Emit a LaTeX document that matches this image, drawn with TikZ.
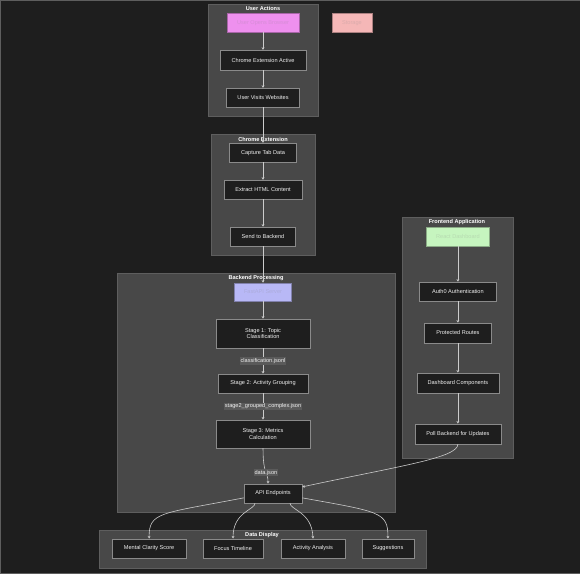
\documentclass[tikz,border=0pt]{standalone}
\usepackage{fontspec}
\setmainfont{Liberation Sans}
\usetikzlibrary{arrows.meta,calc}

\definecolor{bgdark}{HTML}{1E1E1E}
\definecolor{clfill}{HTML}{484848}
\definecolor{clline}{HTML}{5E5E5E}
\definecolor{boxline}{HTML}{8A8A8A}
\definecolor{edgecol}{HTML}{CCCCCC}
\definecolor{txtcol}{HTML}{F0F0F0}
\definecolor{lblfill}{HTML}{5A5A5A}
\definecolor{violetbox}{HTML}{EE90EE}
\definecolor{pinkbox}{HTML}{F5B7B7}
\definecolor{lavbox}{HTML}{B8B8F6}
\definecolor{greenbox}{HTML}{C6F5BF}

\tikzset{
  box/.style={draw=boxline,fill=bgdark,text=txtcol,line width=.6pt,inner sep=1pt,
    font=\fontsize{5.6}{6.8}\selectfont,align=center},
  colbox/.style={box,fill=#1,draw=#1!70!black,text=#1!78!gray},
  cluster/.style={draw=clline,fill=clfill,line width=.6pt},
  cltitle/.style={text=white,font=\fontsize{5.6}{6.8}\selectfont\bfseries,inner sep=0pt},
  edge/.style={draw=edgecol,line width=.6pt,-{Stealth[length=2.6pt,width=2.8pt]}},
  elabel/.style={fill=lblfill,text=txtcol,inner sep=1pt,font=\fontsize{5.6}{6.8}\selectfont}
}

\begin{document}
\begin{tikzpicture}[x=1pt,y=-1pt]
  % background
  \draw[fill=bgdark,draw=clline] (0,0) rectangle (580,573);
  \useasboundingbox (0,0) rectangle (580,573);

  % clusters
  \draw[cluster] (208,4) rectangle (318,116);
  \node[cltitle] at (263,8) {User Actions};
  \draw[cluster] (211,134) rectangle (315,255);
  \node[cltitle] at (263,139) {Chrome Extension};
  \draw[cluster] (117,273) rectangle (395,512);
  \node[cltitle] at (256,278) {Backend Processing};
  \draw[cluster] (402,217) rectangle (513,458);
  \node[cltitle] at (457,222) {Frontend Application};
  \draw[cluster] (99,530) rectangle (426,568);
  \node[cltitle] at (262,535) {Data Display};

  % user actions
  \node[colbox=violetbox,minimum width=72,minimum height=19] (uob) at (263,22.5) {User Opens Browser};
  \node[colbox=pinkbox,minimum width=40,minimum height=19] (store) at (352,22.5) {Storage};
  \node[box,minimum width=86,minimum height=20] (cea) at (263,60) {Chrome Extension Active};
  \node[box,minimum width=73,minimum height=19] (uvw) at (263,97.5) {User Visits Websites};

  % chrome extension
  \node[box,minimum width=67,minimum height=19] (ctd) at (263,152.5) {Capture Tab Data};
  \node[box,minimum width=78,minimum height=19] (ehc) at (263,189.5) {Extract HTML Content};
  \node[box,minimum width=65,minimum height=19] (stb) at (263,236.5) {Send to Backend};

  % backend processing
  \node[colbox=lavbox,minimum width=57,minimum height=18] (fapi) at (263,292) {FastAPI Server};
  \node[box,minimum width=94,minimum height=29] (sone) at (263,333.5) {Stage 1: Topic\\Classification};
  \node[box,minimum width=90,minimum height=19] (stwo) at (263,383.5) {Stage 2: Activity Grouping};
  \node[box,minimum width=94,minimum height=28] (sthree) at (263,434) {Stage 3: Metrics\\Calculation};
  \node[box,minimum width=58,minimum height=19] (api) at (273,493.5) {API Endpoints};

  % frontend application
  \node[colbox=greenbox,minimum width=63,minimum height=19] (rd) at (458,236.5) {React Dashboard};
  \node[box,minimum width=77,minimum height=19] (auth) at (458,291.5) {Auth0 Authentication};
  \node[box,minimum width=67,minimum height=20] (pr) at (458,333) {Protected Routes};
  \node[box,minimum width=82,minimum height=20] (dc) at (458,383) {Dashboard Components};
  \node[box,minimum width=86,minimum height=20] (poll) at (458,434) {Poll Backend for Updates};

  % data display
  \node[box,minimum width=74,minimum height=19] (mcs) at (149,548.5) {Mental Clarity Score};
  \node[box,minimum width=60,minimum height=19] (ft) at (233,548.5) {Focus Timeline};
  \node[box,minimum width=64,minimum height=19] (aa) at (313,548.5) {Activity Analysis};
  \node[box,minimum width=52,minimum height=19] (sug) at (388,548.5) {Suggestions};

  % edges
  \draw[edge] (uob) -- (cea);
  \draw[edge] (cea) -- (uvw);
  \draw[edge] (uvw) -- (ctd);
  \draw[edge] (ctd) -- (ehc);
  \draw[edge] (ehc) -- (stb);
  \draw[edge] (stb) -- (fapi);
  \draw[edge] (fapi) -- (sone);
  \draw[edge] (sone) -- node[elabel]{classification.jsonl} (stwo);
  \draw[edge] (stwo) -- node[elabel]{stage2\_grouped\_complex.json} (sthree);
  \draw[edge] (sthree.south) .. controls (263,475) and (268,472) .. node[elabel,pos=.55]{data.json} (api.north -| 268,0);
  \draw[edge] (rd) -- (auth);
  \draw[edge] (auth) -- (pr);
  \draw[edge] (pr) -- (dc);
  \draw[edge] (dc) -- (poll);
  \draw[edge] (poll.south) .. controls (458,458) and (400,466) .. (api.north east |- 0,487);

  \draw[edge] (api.south west |- 0,498) .. controls (160,514) and (149,512) .. (mcs.north);
  \draw[edge] (api.south west -| 255,0) .. controls (255,510) and (233,512) .. (ft.north);
  \draw[edge] (api.south -| 290,0) .. controls (290,510) and (312,512) .. (aa.north);
  \draw[edge] (api.south east |- 0,498) .. controls (380,512) and (388,512) .. (sug.north);
\end{tikzpicture}
\end{document}
